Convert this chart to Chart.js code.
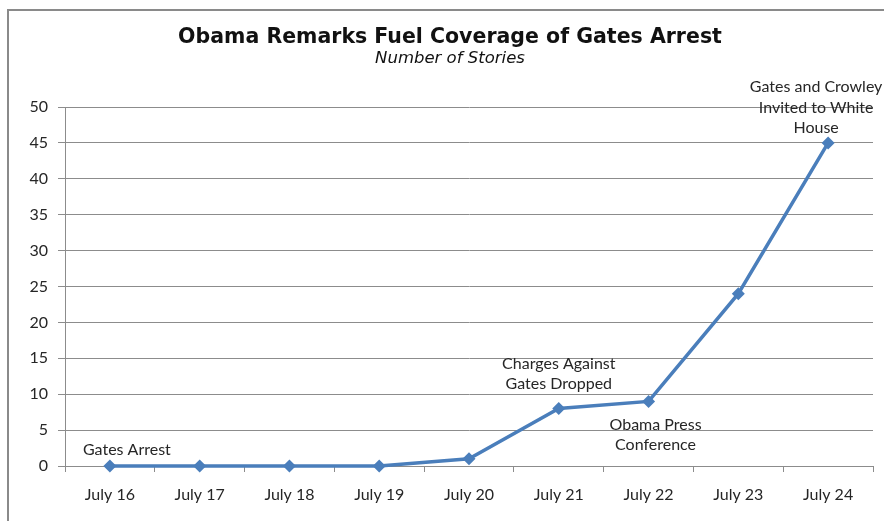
<!DOCTYPE html>
<html>
<head>
<meta charset="utf-8">
<script src="https://cdn.jsdelivr.net/npm/chart.js@4/dist/chart.umd.min.js"></script>
<style>
  html, body { margin: 0; padding: 0; background: #fff; overflow: hidden; }
  canvas { display: block; }
</style>
</head>
<body>
<canvas id="chart" width="884" height="521"></canvas>
<script>
// chart data
const days = ['July 16', 'July 17', 'July 18', 'July 19', 'July 20', 'July 21', 'July 22', 'July 23', 'July 24'];
const stories = [0, 0, 0, 0, 1, 8, 9, 24, 45];
const yTicks = [0, 5, 10, 15, 20, 25, 30, 35, 40, 45, 50];

const chartTitle = 'Obama Remarks Fuel Coverage of Gates Arrest';
const chartSubtitle = 'Number of Stories';

// callouts: which point, text lines
const notes = [
    { index: 0, lines: ['Gates Arrest'], dx: 17, dy: -16 },
    { index: 5, lines: ['Charges Against', 'Gates Dropped'], dx: 0, dy: -45 },
    { index: 6, lines: ['Obama Press', 'Conference'], dx: 7, dy: 23 },
    { index: 8, lines: ['Gates and Crowley', 'Invited to White', 'House'], dx: -12, dy: -56 }
];

const lineBlue = '#4a7ebb';
const gridGray = '#8c8c8c';
const frameGray = '#8a8a8a';
const textDark = '#262626';
const labelFont = 'Lato, "Open Sans", sans-serif';
const titleFont = '"DejaVu Sans", Verdana, sans-serif';

// outer frame (only left/top visible in the crop) and the centred titles
const framePlugin = {
    id: 'frame',
    beforeDraw(chart) {
        const { ctx } = chart;
        ctx.save();
        ctx.strokeStyle = frameGray;
        ctx.lineWidth = 2;
        ctx.beginPath();
        ctx.moveTo(8, chart.height);
        ctx.lineTo(8, 10);
        ctx.lineTo(chart.width, 10);
        ctx.stroke();

        ctx.fillStyle = '#111';
        ctx.textAlign = 'center';
        ctx.textBaseline = 'middle';
        ctx.font = 'bold 20.5px ' + titleFont;
        ctx.fillText(chartTitle, 450, 37.5);
        ctx.font = 'italic 16.5px ' + titleFont;
        ctx.fillText(chartSubtitle, 450, 58.5);
        ctx.restore();
    }
};

const calloutPlugin = {
    id: 'callouts',
    afterDatasetsDraw(chart) {
        const { ctx, scales } = chart;
        ctx.save();
        ctx.font = '16px ' + labelFont;
        ctx.fillStyle = textDark;
        ctx.textAlign = 'center';
        ctx.textBaseline = 'middle';
        notes.forEach(n => {
            const x = scales.x.getPixelForValue(n.index) + n.dx;
            const y = scales.y.getPixelForValue(stories[n.index]) + n.dy;
            n.lines.forEach((t, i) => ctx.fillText(t, x, y + i * 20.5));
        });
        ctx.restore();
    }
};

new Chart(document.getElementById('chart'), {
    type: 'line',
    data: {
        labels: days,
        datasets: [{
            data: stories,
            borderColor: lineBlue,
            backgroundColor: lineBlue,
            borderWidth: 3.5,
            tension: 0,
            pointStyle: 'rectRot',
            pointRadius: 6.5,
            pointBorderWidth: 0,
            pointBackgroundColor: lineBlue,
            clip: false
        }]
    },
    options: {
        responsive: false,
        animation: false,
        layout: { padding: { left: 0, right: 11, top: 107, bottom: 0 } },
        plugins: {
            legend: { display: false },
            tooltip: { enabled: false },
            title: { display: false }
        },
        scales: {
            x: {
                offset: true,
                grid: { offset: true, drawOnChartArea: false, drawTicks: true, tickLength: 6, color: gridGray },
                border: { display: true, color: gridGray },
                ticks: { color: textDark, font: { family: labelFont, size: 16 }, padding: 13, maxRotation: 0 },
                afterFit(scale) { scale.height = 55; }
            },
            y: {
                min: 0,
                max: 50,
                afterBuildTicks(scale) { scale.ticks = yTicks.map(v => ({ value: v })); },
                grid: { color: gridGray, tickLength: 7 },
                border: { display: true, color: gridGray },
                ticks: { color: textDark, font: { family: labelFont, size: 16 }, padding: 10 },
                afterFit(scale) { scale.width = 65; }
            }
        }
    },
    plugins: [framePlugin, calloutPlugin]
});
</script>
</body>
</html>
